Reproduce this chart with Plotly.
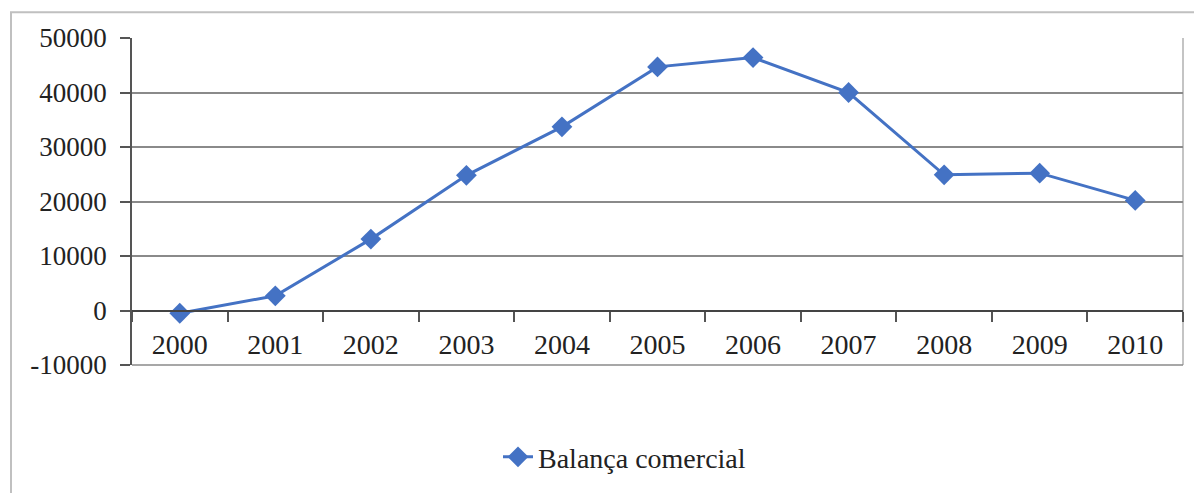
import plotly.graph_objects as go

# Balança comercial, 2000-2010
anos = ["2000", "2001", "2002", "2003", "2004", "2005", "2006", "2007", "2008", "2009", "2010"]
saldo = [-500, 2700, 13100, 24800, 33700, 44700, 46400, 40000, 24900, 25200, 20200]
y_ticks = [-10000, 0, 10000, 20000, 30000, 40000, 50000]

AZUL = "#4472C4"
FONTE = "Liberation Serif"

fig = go.Figure()
fig.add_trace(go.Scatter(
    x=anos, y=saldo, mode="lines+markers", name="Balança comercial",
    line=dict(color=AZUL, width=3),
    marker=dict(symbol="diamond", size=16, color=AZUL),
))

W, H = 1194, 493
L, R, T, B = 132, 11, 38, 125
pw, ph = W - L - R, H - T - B

fig.update_layout(
    width=W, height=H,
    margin=dict(l=L, r=R, t=T, b=B),
    paper_bgcolor="white", plot_bgcolor="white",
    font=dict(family=FONTE, size=28, color="#222"),
    showlegend=True,
    legend=dict(orientation="h", x=(498 - L) / pw, xanchor="left",
                y=(H - B - 461) / ph, yanchor="middle",
                font=dict(family=FONTE, size=28, color="#222"),
                bgcolor="rgba(0,0,0,0)"),
    xaxis=dict(
        type="category", anchor="free", position=1 / 6,
        range=[-0.5, len(anos) - 0.5], autorange=False,
        showgrid=False, showline=True, linecolor="#444", linewidth=2,
        ticks="outside", tickson="boundaries", ticklen=10, tickwidth=1.5,
        tickcolor="#555", ticklabelstandoff=9,
        tickfont=dict(family=FONTE, size=28, color="#222"),
        zeroline=False, fixedrange=True,
    ),
    yaxis=dict(
        range=[-10000, 50000], tickvals=y_ticks,
        ticktext=[str(v) for v in y_ticks],
        showgrid=True, gridcolor="#8a8a8a", gridwidth=1.5,
        showline=True, linecolor="#555", linewidth=1.5,
        ticks="outside", ticklen=10, tickwidth=1.5, tickcolor="#555",
        ticklabelstandoff=8,
        tickfont=dict(family=FONTE, size=27, color="#222"),
        zeroline=False, fixedrange=True,
    ),
)

# Plot frame (right and bottom edges) and outer chart border
fig.add_shape(type="line", xref="paper", yref="paper", x0=1, x1=1, y0=0, y1=1,
              line=dict(color="#b0b0b0", width=1.5), layer="below")
fig.add_shape(type="line", xref="paper", yref="paper", x0=0, x1=1, y0=0, y1=0,
              line=dict(color="#8a8a8a", width=1.5), layer="below")
fig.add_shape(type="rect", xref="paper", yref="paper",
              x0=(11 - L) / pw, x1=(W + 20 - L) / pw,
              y0=(H - B - (H + 20)) / ph, y1=(H - B - 12) / ph,
              line=dict(color="#c0c0c0", width=2), fillcolor="rgba(0,0,0,0)",
              layer="below")

fig.write_html("out.html")
